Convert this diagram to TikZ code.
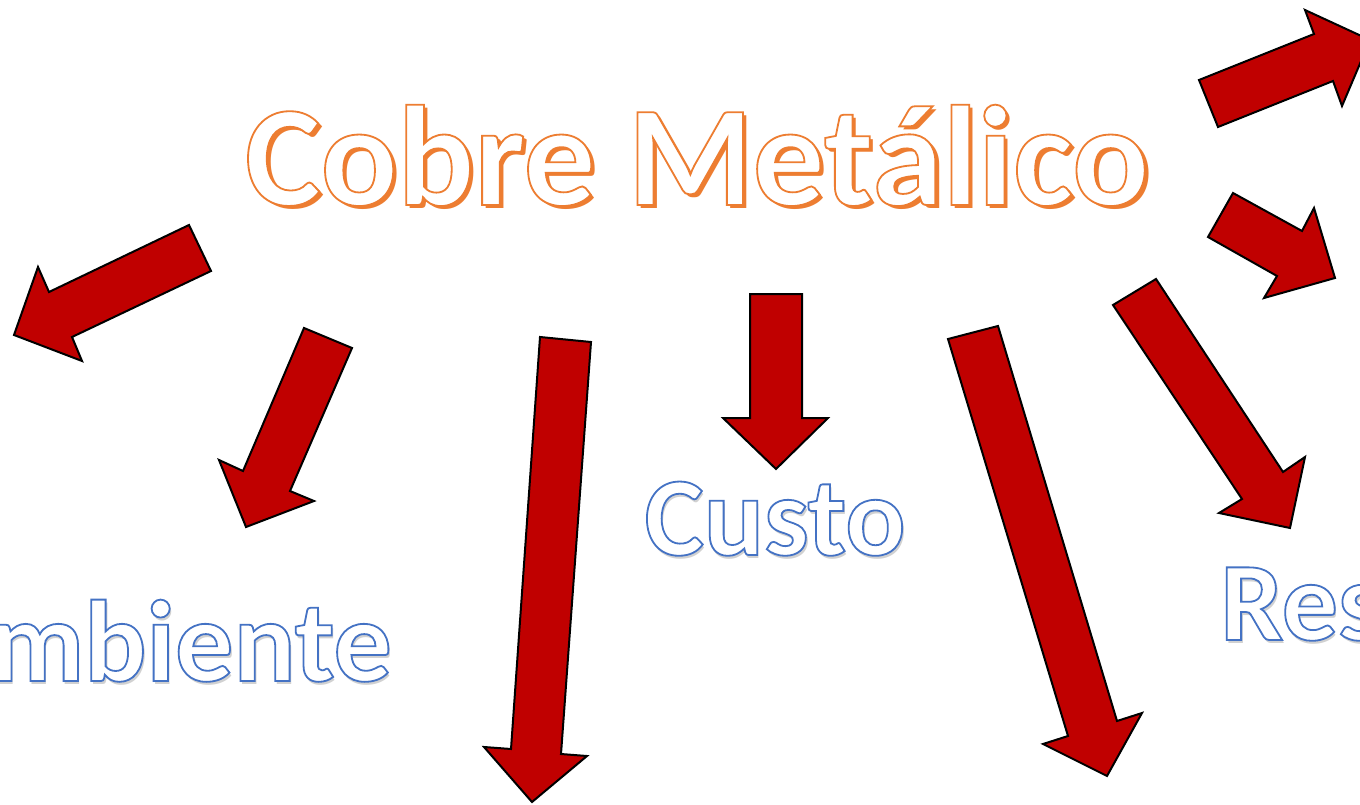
\documentclass[tikz,border=0pt]{standalone}
\usepackage{fontspec}
\newfontfamily\calib{Carlito}
\definecolor{arrowred}{HTML}{C00000}
\definecolor{titleorange}{HTML}{ED7D31}
\definecolor{labelblue}{HTML}{4472C4}
\definecolor{softshadow}{gray}{0.82}
% #1 line width, #2 stroke rgb, #3 shadow colour, #4 shadow dx, #5 shadow dy, #6 text
\newcommand{\outlined}[6]{%
  \makebox[0pt][l]{\kern#4pt\raisebox{-#5pt}{\color{#3}#6}}%
  {\color{white}\special{pdf:literal direct 2 Tr #1 w #2 RG}#6\special{pdf:literal direct 0 Tr}}}
\tikzset{
  blockarrow/.style={fill=arrowred, draw=black, line width=2pt, line join=miter},
  titletext/.style={inner sep=0pt, font={\calib\bfseries\fontsize{143}{146}\selectfont}},
  labeltext/.style={inner sep=0pt, font={\calib\bfseries\fontsize{112}{115}\selectfont}}
}
\begin{document}
\begin{tikzpicture}[x=1pt,y=-1pt]
\useasboundingbox (0,0) rectangle (1360,805);
\clip (0,0) rectangle (1360,805);
\fill[white] (0,0) rectangle (1360,805);

% title
\node[titletext, anchor=base] (title) at (697,205)
  {\outlined{1.8}{0.929 0.490 0.192}{titleorange}{4}{4}{Cobre Metálico}};

% labels
\node[labeltext, anchor=base] (custo) at (775,555)
  {\outlined{1.8}{0.267 0.447 0.769}{softshadow}{2}{3}{Custo}};
\node[labeltext, anchor=base east, font={\calib\bfseries\fontsize{116}{118}\selectfont}] (amb) at (392,681)
  {\outlined{1.8}{0.267 0.447 0.769}{softshadow}{2}{3}{mbiente}};
\node[labeltext, anchor=base west] (res) at (1220,640)
  {\outlined{1.8}{0.267 0.447 0.769}{softshadow}{2}{3}{Res}};

% block arrows
\draw[blockarrow] (1199,80) -- (1314,34) -- (1305,10) -- (1370,40) -- (1342,106) -- (1333,81) -- (1218,127) -- cycle;
\draw[blockarrow] (1233,193) -- (1302,231) -- (1314,208) -- (1335,278) -- (1264,298) -- (1277,276) -- (1208,237) -- cycle;
\draw[blockarrow] (189,225) -- (49,292) -- (38,267) -- (14,335) -- (82,361) -- (72,337) -- (211,271) -- cycle;
\draw[blockarrow] (304,328) -- (352,348) -- (290,491) -- (314,501) -- (246,527) -- (219,460) -- (243,471) -- cycle;
\draw[blockarrow] (540,337) -- (591,342) -- (561,754) -- (587,756) -- (532,802) -- (484,747) -- (511,749) -- cycle;
\draw[blockarrow] (750,294) -- (802,294) -- (802,418) -- (828,418) -- (776,469) -- (723,418) -- (750,418) -- cycle;
\draw[blockarrow] (948,339) -- (998,326) -- (1117,721) -- (1142,713) -- (1107,776) -- (1043,744) -- (1068,736) -- cycle;
\draw[blockarrow] (1113,305) -- (1156,279) -- (1283,472) -- (1305,457) -- (1290,528) -- (1219,513) -- (1242,499) -- cycle;
\end{tikzpicture}
\end{document}
